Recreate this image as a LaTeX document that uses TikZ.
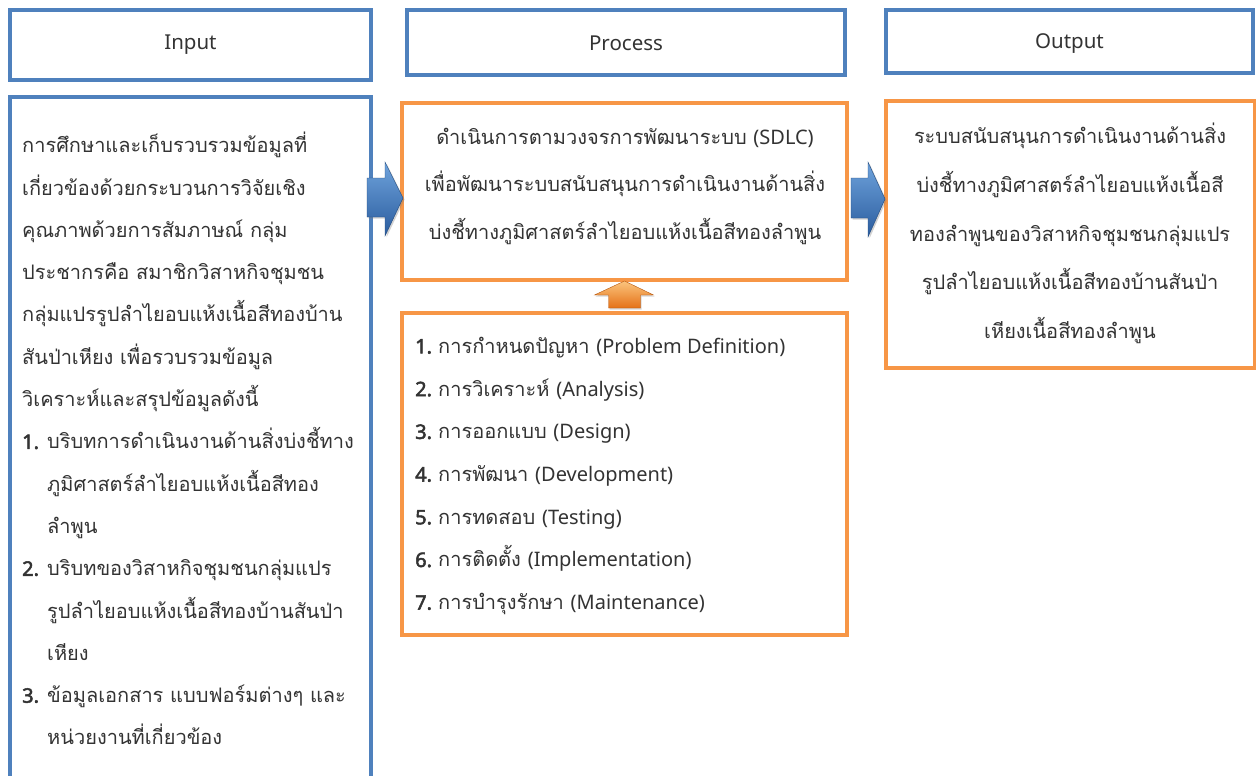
\documentclass[tikz,border=0pt]{standalone}
\usepackage{fontspec}
\setmainfont{Loma}[Script=Thai]
\newfontfamily\latfont{Noto Sans}
\newfontfamily\numfont{Noto Sans}[FakeBold=2.5]
\newcommand\en[1]{{\latfont #1}}
\newcommand\num[1]{{\numfont #1}}
\usetikzlibrary{shadows}

\definecolor{boxblue}{HTML}{4F81BD}
\definecolor{boxorange}{HTML}{F79646}
\definecolor{ink}{HTML}{333333}
\definecolor{arrowlight}{HTML}{6FA3DC}
\definecolor{arrowdark}{HTML}{2A5C9E}
\definecolor{uplight}{HTML}{FBC47E}
\definecolor{updark}{HTML}{E2690C}

\tikzset{
  frame/.style={draw, line width=4pt, fill=white, inner sep=0pt},
  bluebox/.style={frame, draw=boxblue},
  orangebox/.style={frame, draw=boxorange},
  hdrtext/.style={text=ink, font=\latfont\fontsize{20.5}{24}\selectfont},
  bodytext/.style={text=ink, inner sep=0pt, font=\fontsize{20}{42.3}\selectfont},
  rightarrow/.style={top color=arrowlight, bottom color=arrowdark, draw=arrowdark!80!black, line width=0.4pt,
    drop shadow={shadow xshift=1.5pt, shadow yshift=-1.5pt, opacity=0.35}},
  uparrow/.style={top color=uplight, bottom color=updark, draw=updark!80!black, line width=0.4pt,
    drop shadow={shadow xshift=1pt, shadow yshift=-1.5pt, opacity=0.3}},
}

\begin{document}
\begin{tikzpicture}[x=1pt,y=-1pt]
\useasboundingbox[fill=white] (0,0) rectangle (1256,776);
\clip (0,0) rectangle (1256,776);

% column headers
\node[bluebox, minimum width=361pt, minimum height=70pt] (inhdr) at (190.5,45) {};
\node[hdrtext] at (inhdr.center) {Input};
\node[bluebox, minimum width=438pt, minimum height=65pt] (prochdr) at (626,42.5) {};
\node[hdrtext] at ([yshift=-1pt]prochdr.center) {Process};
\node[bluebox, minimum width=367pt, minimum height=63pt] (outhdr) at (1069.5,41.5) {};
\node[hdrtext] at ([yshift=-2pt]outhdr.center) {Output};

% content boxes
\node[bluebox, minimum width=361pt, minimum height=703pt] (inbox) at (190.5,448.5) {};
\node[orangebox, minimum width=445pt, minimum height=177pt] (procbox) at (624.5,191.5) {};
\node[orangebox, minimum width=445pt, minimum height=322pt] (stepsbox) at (624.5,474) {};
\node[orangebox, minimum width=369pt, minimum height=267pt] (outbox) at (1070.5,234.5) {};

% input text
\node[bodytext, anchor=north west, align=left] (intext) at (22,132) {%
การศึกษาและเก็บรวบรวมข้อมูลที่\\
เกี่ยวข้องด้วยกระบวนการวิจัยเชิง\\
คุณภาพด้วยการสัมภาษณ์ กลุ่ม\\
ประชากรคือ สมาชิกวิสาหกิจชุมชน\\
กลุ่มแปรรูปลำไยอบแห้งเนื้อสีทองบ้าน\\
สันป่าเหียง เพื่อรวบรวมข้อมูล\\
วิเคราะห์และสรุปข้อมูลดังนี้\\
\makebox[25pt][l]{\num{1.}}บริบทการดำเนินงานด้านสิ่งบ่งชี้ทาง\\
\hspace*{25pt}ภูมิศาสตร์ลำไยอบแห้งเนื้อสีทอง\\
\hspace*{25pt}ลำพูน\\
\makebox[25pt][l]{\num{2.}}บริบทของวิสาหกิจชุมชนกลุ่มแปร\\
\hspace*{25pt}รูปลำไยอบแห้งเนื้อสีทองบ้านสันป่า\\
\hspace*{25pt}เหียง\\
\makebox[25pt][l]{\num{3.}}ข้อมูลเอกสาร แบบฟอร์มต่างๆ และ\\
\hspace*{25pt}หน่วยงานที่เกี่ยวข้อง};

% process text
\node[bodytext, anchor=north, align=center, font=\fontsize{20}{47.5}\selectfont] (proctext) at (625,128) {%
ดำเนินการตามวงจรการพัฒนาระบบ \en{(SDLC)}\\
เพื่อพัฒนาระบบสนับสนุนการดำเนินงานด้านสิ่ง\\
บ่งชี้ทางภูมิศาสตร์ลำไยอบแห้งเนื้อสีทองลำพูน};

% development steps
\node[bodytext, anchor=north west, align=left, font=\fontsize{20}{42.7}\selectfont] (stepstext) at (415,337) {%
\makebox[23pt][l]{\num{1.}}การกำหนดปัญหา \en{(Problem Definition)}\\
\makebox[23pt][l]{\num{2.}}การวิเคราะห์ \en{(Analysis)}\\
\makebox[23pt][l]{\num{3.}}การออกแบบ \en{(Design)}\\
\makebox[23pt][l]{\num{4.}}การพัฒนา \en{(Development)}\\
\makebox[23pt][l]{\num{5.}}การทดสอบ \en{(Testing)}\\
\makebox[23pt][l]{\num{6.}}การติดตั้ง \en{(Implementation)}\\
\makebox[23pt][l]{\num{7.}}การบำรุงรักษา \en{(Maintenance)}};

% output text
\node[bodytext, anchor=north, align=center, font=\fontsize{20}{48.7}\selectfont] (outtext) at (1070,123) {%
ระบบสนับสนุนการดำเนินงานด้านสิ่ง\\
บ่งชี้ทางภูมิศาสตร์ลำไยอบแห้งเนื้อสี\\
ทองลำพูนของวิสาหกิจชุมชนกลุ่มแปร\\
รูปลำไยอบแห้งเนื้อสีทองบ้านสันป่า\\
เหียงเนื้อสีทองลำพูน};

% block arrows between the stages
\shade[rightarrow] (367,178) coordinate (a1) -- ++(18,0) -- ++(0,-16) -- ++(18,36) -- ++(-18,38) -- ++(0,-19) -- ++(-18,0) -- cycle;
\shade[rightarrow] (851,178) coordinate (a2) -- ++(17,0) -- ++(0,-16) -- ++(17,37) -- ++(-17,38) -- ++(0,-19) -- ++(-17,0) -- cycle;
\shade[uparrow] (stepsbox.north) ++(-16,-3) coordinate (a3) -- ++(0,-13) -- ++(-14,0) -- ++(30,-14) -- ++(29,14) -- ++(-13,0) -- ++(0,13) -- cycle;
\end{tikzpicture}
\end{document}
